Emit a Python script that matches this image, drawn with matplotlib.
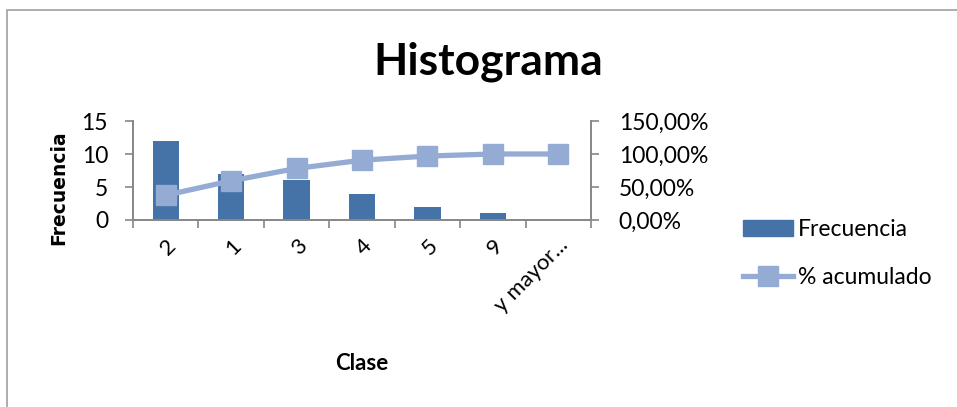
import matplotlib.pyplot as plt
from matplotlib.ticker import FuncFormatter, FixedLocator
from matplotlib.patches import Rectangle
from matplotlib.lines import Line2D

plt.rcParams['font.family'] = ['Lato', 'DejaVu Sans']

clases = ['2', '1', '3', '4', '5', '9', 'y mayor...']
frecuencia = [12, 7, 6, 4, 2, 1, 0]
acumulado = [37.50, 59.38, 78.13, 90.63, 96.88, 100.00, 100.00]

bar_color = '#4573a7'
line_color = '#94abd4'
axis_color = '#868686'

fig = plt.figure(figsize=(9.57, 4.07), dpi=100)
ax = fig.add_axes([133/957, 1-220/407, (591-133)/957, (220-121)/407])
ax2 = ax.twinx()

x = range(len(clases))
ax.bar(x, frecuencia, width=0.4, color=bar_color, zorder=2)
ax2.plot(x, [v/100 for v in acumulado], color=line_color, lw=3.8,
         marker='s', markersize=15, markerfacecolor=line_color,
         markeredgecolor=line_color, zorder=3)
ax.set_zorder(1)
ax2.set_zorder(2)

ax.set_xlim(-0.5, len(clases)-0.5)
ax.set_ylim(0, 15)
ax2.set_ylim(0, 1.5)
ax.set_yticks([0, 5, 10, 15])
ax2.set_yticks([0, 0.5, 1.0, 1.5])
ax2.yaxis.set_major_formatter(FuncFormatter(lambda v, p: f'{v*100:.2f}%'.replace('.', ',')))

ax.set_xticks(list(x))
ax.set_xticklabels(clases, rotation=45, ha='right', va='top', rotation_mode='anchor')
ax.xaxis.set_minor_locator(FixedLocator([i - 0.5 for i in range(len(clases)+1)]))
ax.tick_params(axis='x', which='major', length=0, pad=11, labelsize=16)
ax.tick_params(axis='x', which='minor', length=6, color=axis_color, width=1.2, direction='out')
ax.tick_params(axis='y', length=6, color=axis_color, width=1.2, labelsize=16.5, pad=12)
ax2.tick_params(axis='y', length=6, color=axis_color, width=1.2, labelsize=16.5, pad=14)

for a in (ax, ax2):
    a.spines['top'].set_visible(False)
    for s in ('left', 'right', 'bottom'):
        a.spines[s].set_color(axis_color)
        a.spines[s].set_linewidth(1.2)
    a.set_facecolor('none')

fig.text(59/957, 1-188/407, 'Frecuencia', fontsize=13.5, fontweight='bold',
         family='DejaVu Sans', rotation=90, ha='center', va='center')
fig.text(362/957, 1-363/407, 'Clase', fontsize=16, fontweight='bold', ha='center', va='center')
fig.text(488/957, 1-62/407, 'Histograma', fontsize=32, fontweight='bold', ha='center', va='center')

handles = [Rectangle((0, 0), 1, 1, color=bar_color),
           Line2D([], [], color=line_color, lw=3.8, marker='s', markersize=15)]
fig.legend(handles, ['Frecuencia', '% acumulado'], loc='upper left',
           bbox_to_anchor=(722/957, 1-198/407), frameon=False, fontsize=16.5,
           handlelength=2.2, handletextpad=0.2, labelspacing=1.2)

fig.patches.append(Rectangle((7/957, -0.1), 1.2, 1-10/407+0.1, transform=fig.transFigure,
                             fill=False, edgecolor='#a0a0a0', lw=1.2))

fig.savefig('out.png', dpi=100)
